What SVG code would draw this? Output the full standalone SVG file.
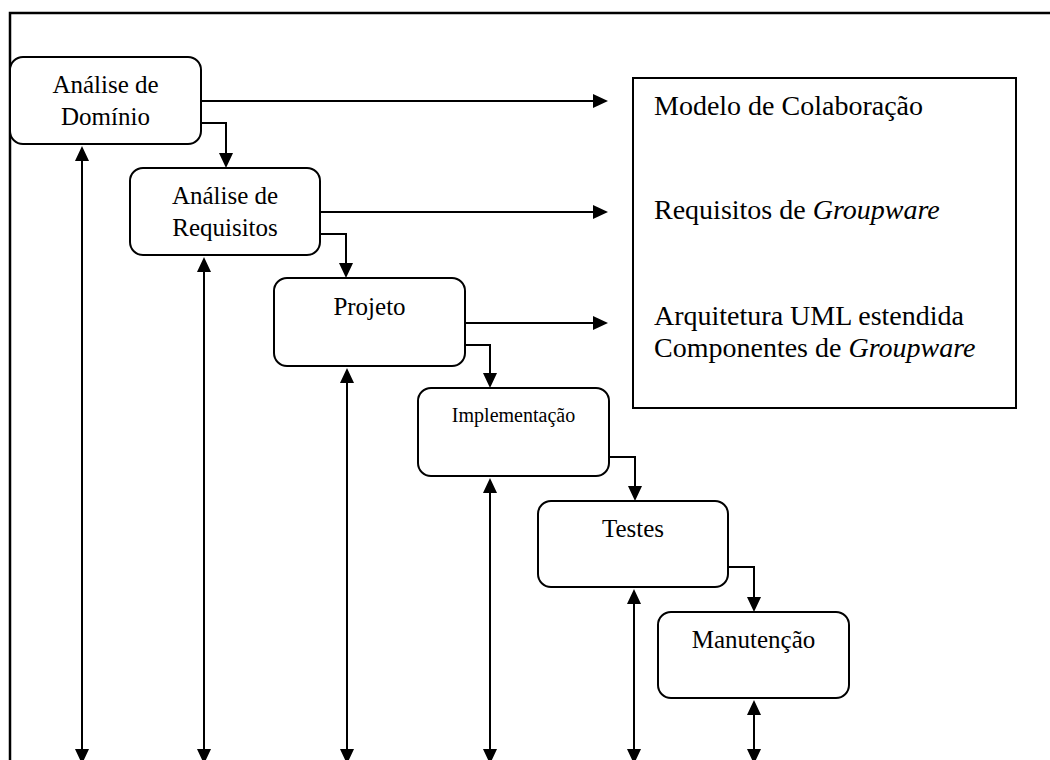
<svg xmlns="http://www.w3.org/2000/svg" width="1050" height="760" viewBox="0 0 1050 760">
  <style>
    .frame { fill: none; stroke: #000; stroke-width: 2.5; }
    .box { fill: #fff; stroke: #000; stroke-width: 2; }
    .out { fill: #fff; stroke: #000; stroke-width: 2; }
    .lbl { font-family: "Liberation Serif", "Times New Roman", serif; font-size: 25px; fill: #000; text-anchor: middle; }
    .small { font-size: 20px; }
    .res { font-family: "Liberation Serif", "Times New Roman", serif; font-size: 28px; fill: #000; }
    .conn path { fill: none; stroke: #000; stroke-width: 2; }
  </style>
  <defs>
    <marker id="arrow" viewBox="0 0 15 14" markerWidth="15" markerHeight="14" refX="10" refY="7" markerUnits="userSpaceOnUse" orient="auto-start-reverse">
      <path d="M0,0 L15,7 L0,14 z" fill="#000"/>
    </marker>
  </defs>

  <rect width="1050" height="760" fill="#fff"/>

  <!-- outer frame -->
  <path class="frame" d="M10,762 V13 H1052"/>

  <!-- connectors -->
  <g id="connectors" class="conn">
    <!-- outputs to the result box -->
    <path d="M201,101 H603" marker-end="url(#arrow)"/>
    <path d="M320,212 H603" marker-end="url(#arrow)"/>
    <path d="M465,323 H603" marker-end="url(#arrow)"/>
    <!-- cascade between phases -->
    <path d="M201,123 H226 V163" marker-end="url(#arrow)"/>
    <path d="M320,234 H346 V273" marker-end="url(#arrow)"/>
    <path d="M465,345 H490 V383" marker-end="url(#arrow)"/>
    <path d="M609,457 H635 V496" marker-end="url(#arrow)"/>
    <path d="M728,567 H754 V607" marker-end="url(#arrow)"/>
    <!-- feedback lines -->
    <path d="M82,151 V759" marker-start="url(#arrow)" marker-end="url(#arrow)"/>
    <path d="M204,262 V759" marker-start="url(#arrow)" marker-end="url(#arrow)"/>
    <path d="M347,373 V759" marker-start="url(#arrow)" marker-end="url(#arrow)"/>
    <path d="M490,483 V759" marker-start="url(#arrow)" marker-end="url(#arrow)"/>
    <path d="M634,594 V759" marker-start="url(#arrow)" marker-end="url(#arrow)"/>
    <path d="M754,705 V759" marker-start="url(#arrow)" marker-end="url(#arrow)"/>
  </g>

  <g id="analise-dominio">
    <rect class="box" x="10" y="57" width="191" height="87" rx="13"/>
    <text class="lbl" x="105.5" y="93">Análise de</text>
    <text class="lbl" x="105.5" y="125">Domínio</text>
  </g>

  <g id="analise-requisitos">
    <rect class="box" x="130" y="168" width="190" height="87" rx="13"/>
    <text class="lbl" x="225" y="204">Análise de</text>
    <text class="lbl" x="225" y="236">Requisitos</text>
  </g>

  <g id="projeto">
    <rect class="box" x="274" y="278" width="191" height="88" rx="13"/>
    <text class="lbl" x="369.5" y="315">Projeto</text>
  </g>

  <g id="implementacao">
    <rect class="box" x="418" y="388" width="191" height="88" rx="13"/>
    <text class="lbl small" x="513.5" y="422">Implementação</text>
  </g>

  <g id="testes">
    <rect class="box" x="538" y="501" width="190" height="86" rx="13"/>
    <text class="lbl" x="633" y="537">Testes</text>
  </g>

  <g id="manutencao">
    <rect class="box" x="658" y="612" width="191" height="86" rx="13"/>
    <text class="lbl" x="753.5" y="648">Manutenção</text>
  </g>

  <g id="resultados">
    <rect class="out" x="633" y="78" width="383" height="330"/>
    <text class="res" x="654" y="115">Modelo de Colaboração</text>
    <text class="res" x="654" y="219">Requisitos de <tspan font-style="italic">Groupware</tspan></text>
    <text class="res" x="654" y="325">Arquitetura UML estendida</text>
    <text class="res" x="654" y="357">Componentes de <tspan font-style="italic">Groupware</tspan></text>
  </g>
</svg>
